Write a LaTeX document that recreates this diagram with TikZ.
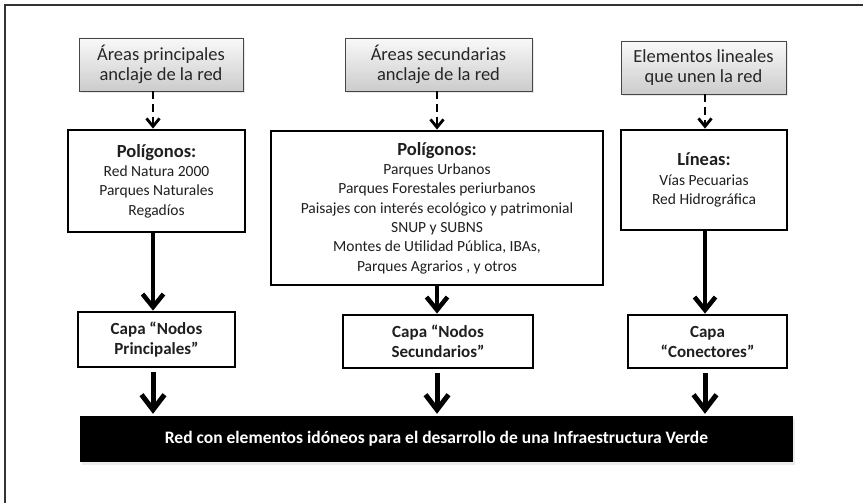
\documentclass[tikz,border=0pt]{standalone}
\usepackage{fontspec}
\setmainfont{Carlito}
\usetikzlibrary{arrows.meta,shadows}
\begin{document}
\begin{tikzpicture}[x=1pt,y=-1pt,
  topbox/.style={draw=gray!55!black, line width=0.8pt, top color=gray!5, bottom color=gray!40, align=center,
    font=\fontsize{18.5}{20.5}\selectfont, text=black!85, inner sep=0pt,
    drop shadow={shadow xshift=1.5pt,shadow yshift=-2pt,fill=gray!35}},
  polybox/.style={draw=black, line width=2.8pt, fill=white, align=center,
    font=\fontsize{15.5}{19.3}\selectfont, text=black!88, inner sep=0pt},
  capabox/.style={draw=black, line width=2.8pt, fill=white, align=center,
    font=\bfseries\fontsize{17}{20}\selectfont, text=black!88, inner sep=0pt},
  dasharrow/.style={line width=2.8pt, dash pattern=on 8pt off 5pt,
    -{Straight Barb[length=8pt,width=13pt,line width=2.8pt]}},
  mainarrow/.style={line width=4.5pt, -{Straight Barb[length=13pt,width=21pt,line width=4.5pt]}},
  bigarrow/.style={line width=5pt, -{Straight Barb[length=15pt,width=23pt,line width=5pt]}},
  framestyle/.style={line width=1.2pt, draw=black!80},
]
\useasboundingbox (0,0) rectangle (866,503);
\draw[framestyle] (5,503) -- (5,5) -- (863,5);

% column guides
\coordinate (k1) at (153,0);
\coordinate (k2) at (437,0);
\coordinate (k3) at (705,0);

% top boxes
\node[topbox, minimum width=164pt, minimum height=53pt] (t1) at (161,64.5)
  {Áreas principales\\anclaje de la red};
\node[topbox, minimum width=187pt, minimum height=53pt] (t2) at (438.5,64.5)
  {Áreas secundarias\\anclaje de la red};
\node[topbox, minimum width=165pt, minimum height=53pt] (t3) at (703.5,67.5)
  {Elementos lineales\\que unen la red};

% polygon boxes
\node[polybox, minimum width=177pt, minimum height=102pt] (p1) at (156.5,181)
  {{\bfseries\fontsize{18.5}{20}\selectfont Polígonos:}\\Red Natura 2000\\Parques Naturales\\Regadíos};
\node[polybox, minimum width=332pt, minimum height=154pt] (p2) at (437,208)
  {{\bfseries\fontsize{18.5}{20}\selectfont Polígonos:}\\Parques Urbanos\\Parques Forestales periurbanos\\Paisajes con interés ecológico y patrimonial\\SNUP y SUBNS\\Montes de Utilidad Pública, IBAs,\\Parques Agrarios , y otros};
\node[polybox, minimum width=166pt, minimum height=100pt] (p3) at (704,180)
  {{\bfseries\fontsize{18.5}{20}\selectfont Líneas:}\\Vías Pecuarias\\Red Hidrográfica};

% capa boxes
\node[capabox, minimum width=157pt, minimum height=55pt] (c1) at (156.5,339.5)
  {Capa “Nodos\\Principales”};
\node[capabox, minimum width=190pt, minimum height=53pt] (c2) at (438,341.5)
  {Capa “Nodos\\Secundarios”};
\node[capabox, minimum width=159pt, minimum height=53pt] (c3) at (707.5,341.5)
  {Capa\\“Conectores”};

% bottom bar
\node[fill=black, minimum width=713pt, minimum height=46pt, inner sep=0pt,
  text=white, font=\bfseries\fontsize{17.5}{20}\selectfont,
  drop shadow={shadow xshift=2pt,shadow yshift=-3pt,fill=gray!30}] (bar) at (436.5,439)
  {Red con elementos idóneos para el desarrollo de una Infraestructura Verde};

% dashed arrows
\draw[dasharrow] (k1 |- t1.south) -- (k1 |- p1.north);
\draw[dasharrow] (k2 |- t2.south) -- (k2 |- p2.north);
\draw[dasharrow] (k3 |- t3.south) -- (k3 |- p3.north);

% main arrows
\draw[mainarrow] (k1 |- p1.south) -- (k1 |- c1.north);
\draw[mainarrow] (k2 |- p2.south) -- (k2 |- c2.north);
\draw[mainarrow] (k3 |- p3.south) -- (k3 |- c3.north);

% to bar
\draw[bigarrow, shorten <=4pt, shorten >=2pt] (k1 |- c1.south) -- (k1 |- bar.north);
\draw[bigarrow, shorten <=4pt, shorten >=2pt] (k2 |- c2.south) -- (k2 |- bar.north);
\draw[bigarrow, shorten <=4pt, shorten >=2pt] (k3 |- c3.south) -- (k3 |- bar.north);
\end{tikzpicture}
\end{document}
